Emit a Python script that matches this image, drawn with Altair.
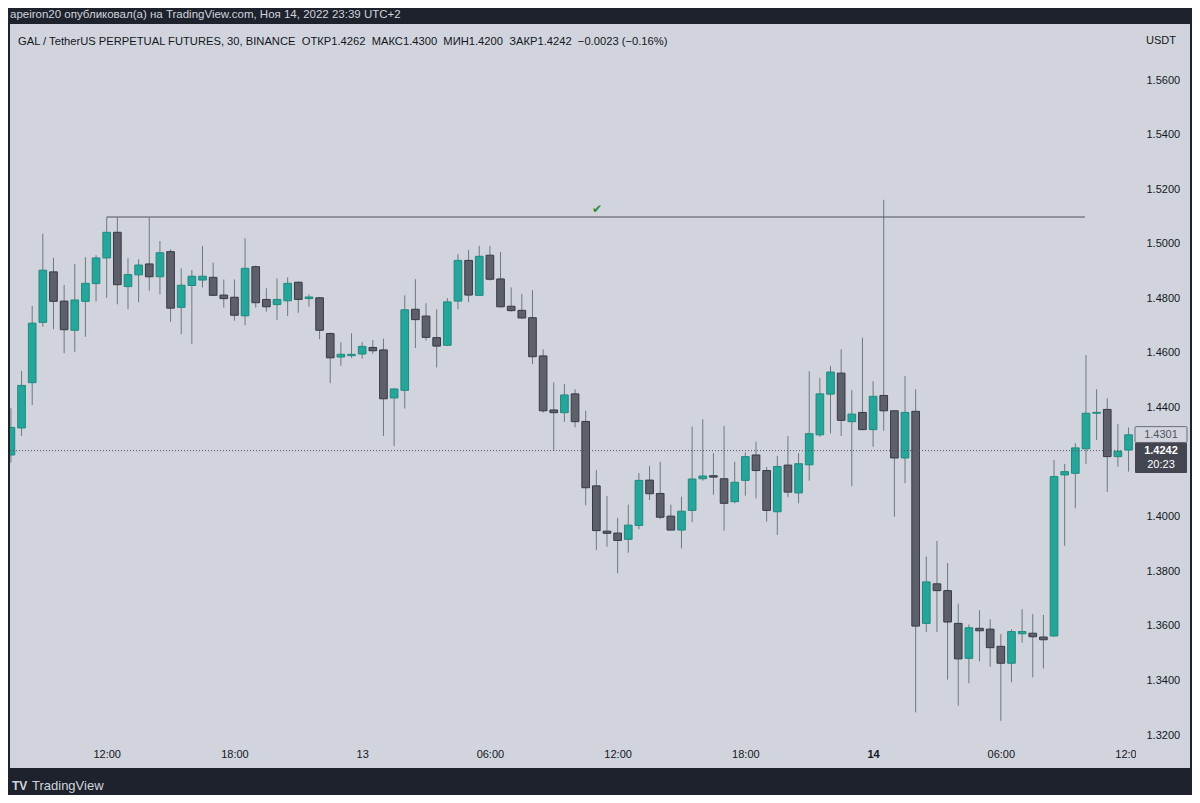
import altair as alt
import pandas as pd

# ---- data (30-min candles, GAL/USDT perp) ----
opens = [1.4226, 1.4325, 1.4491, 1.4712, 1.4897, 1.4790, 1.4683, 1.4789, 1.4854, 1.4948,
         1.5042, 1.4843, 1.4886, 1.4926, 1.4879, 1.4971, 1.4767, 1.4847, 1.4867, 1.4877,
         1.4812, 1.4804, 1.4736, 1.4916, 1.4796, 1.4777, 1.4791, 1.4859, 1.4799, 1.4802,
         1.4671, 1.4585, 1.4590, 1.4596, 1.4620, 1.4611, 1.4435, 1.4463, 1.4760, 1.4735,
         1.4656, 1.4628, 1.4790, 1.4939, 1.4811, 1.4958, 1.4871, 1.4771, 1.4756, 1.4729,
         1.4589, 1.4391, 1.4381, 1.4450, 1.4349, 1.4113, 1.3947, 1.3940, 1.3917, 1.3968,
         1.4134, 1.4085, 1.4002, 1.3951, 1.4023, 1.4139, 1.4150, 1.4139, 1.4055, 1.4133,
         1.4226, 1.4169, 1.4018, 1.4189, 1.4087, 1.4190, 1.4300, 1.4449, 1.4526, 1.4348,
         1.4382, 1.4319, 1.4444, 1.4388, 1.4215, 1.4386, 1.3609, 1.3754, 1.3729, 1.3609,
         1.3481, 1.3591, 1.3588, 1.3525, 1.3463, 1.3571, 1.3573, 1.3559, 1.3563, 1.4153,
         1.4159, 1.4249, 1.4379, 1.4393, 1.4220, 1.4244]
highs = [1.4397, 1.4534, 1.4772, 1.5037, 1.4949, 1.4849, 1.4926, 1.4951, 1.4958, 1.5097,
         1.5097, 1.4947, 1.4943, 1.5097, 1.5010, 1.4980, 1.4910, 1.4904, 1.4992, 1.4931,
         1.4869, 1.4869, 1.5020, 1.4920, 1.4837, 1.4873, 1.4877, 1.4862, 1.4815, 1.4805,
         1.4675, 1.4639, 1.4672, 1.4640, 1.4647, 1.4652, 1.4470, 1.4811, 1.4870, 1.4782,
         1.4760, 1.4801, 1.4962, 1.4977, 1.4992, 1.4992, 1.4970, 1.4840, 1.4816, 1.4830,
         1.4613, 1.4492, 1.4486, 1.4467, 1.4388, 1.4171, 1.4076, 1.3996, 1.4044, 1.4160,
         1.4186, 1.4201, 1.4044, 1.4073, 1.4330, 1.4357, 1.4233, 1.4332, 1.4201, 1.4236,
         1.4275, 1.4182, 1.4223, 1.4295, 1.4233, 1.4533, 1.4508, 1.4552, 1.4613, 1.4464,
         1.4656, 1.4496, 1.5161, 1.4390, 1.4515, 1.4467, 1.3854, 1.3911, 1.3830, 1.3681,
         1.3605, 1.3657, 1.3624, 1.3570, 1.3587, 1.3661, 1.3643, 1.3640, 1.4208, 1.4193,
         1.4269, 1.4592, 1.4467, 1.4434, 1.4340, 1.4327]
lows = [1.4198, 1.4296, 1.4409, 1.4696, 1.4687, 1.4599, 1.4604, 1.4659, 1.4789, 1.4802,
        1.4778, 1.4760, 1.4786, 1.4828, 1.4815, 1.4714, 1.4669, 1.4633, 1.4840, 1.4809,
        1.4766, 1.4718, 1.4702, 1.4766, 1.4751, 1.4721, 1.4735, 1.4747, 1.4769, 1.4650,
        1.4489, 1.4553, 1.4582, 1.4579, 1.4596, 1.4296, 1.4259, 1.4396, 1.4618, 1.4645,
        1.4547, 1.4625, 1.4760, 1.4786, 1.4809, 1.4865, 1.4767, 1.4751, 1.4725, 1.4559,
        1.4381, 1.4242, 1.4348, 1.4327, 1.4042, 1.3878, 1.3890, 1.3793, 1.3868, 1.3954,
        1.4061, 1.3991, 1.3950, 1.3884, 1.3980, 1.4132, 1.4080, 1.3949, 1.4049, 1.4077,
        1.4067, 1.3982, 1.3933, 1.4071, 1.4049, 1.4132, 1.4293, 1.4305, 1.4296, 1.4111,
        1.4317, 1.4256, 1.4315, 1.4000, 1.4123, 1.3283, 1.3577, 1.3577, 1.3403, 1.3308,
        1.3390, 1.3470, 1.3450, 1.3252, 1.3393, 1.3538, 1.3411, 1.3444, 1.3560, 1.3893,
        1.4031, 1.4193, 1.4281, 1.4091, 1.4183, 1.4165]
closes = [1.4327, 1.4481, 1.4709, 1.4903, 1.4789, 1.4685, 1.4794, 1.4855, 1.4948, 1.5042,
          1.4850, 1.4887, 1.4922, 1.4879, 1.4967, 1.4764, 1.4848, 1.4881, 1.4881, 1.4811,
          1.4799, 1.4738, 1.4910, 1.4784, 1.4769, 1.4796, 1.4855, 1.4796, 1.4805, 1.4683,
          1.4582, 1.4595, 1.4595, 1.4624, 1.4608, 1.4432, 1.4468, 1.4758, 1.4722, 1.4657,
          1.4625, 1.4787, 1.4939, 1.4812, 1.4954, 1.4870, 1.4769, 1.4755, 1.4728, 1.4586,
          1.4388, 1.4381, 1.4446, 1.4348, 1.4106, 1.3949, 1.3939, 1.3913, 1.3969, 1.4133,
          1.4084, 1.3998, 1.3951, 1.4020, 1.4138, 1.4149, 1.4145, 1.4049, 1.4126, 1.4220,
          1.4169, 1.4023, 1.4184, 1.4090, 1.4194, 1.4304, 1.4450, 1.4530, 1.4353, 1.4376,
          1.4319, 1.4441, 1.4388, 1.4215, 1.4382, 1.3599, 1.3761, 1.3729, 1.3614, 1.3479,
          1.3593, 1.3582, 1.3520, 1.3463, 1.3579, 1.3579, 1.3560, 1.3549, 1.4147, 1.4165,
          1.4252, 1.4379, 1.4382, 1.4220, 1.4240, 1.4300]

tick_index = [9, 21, 33, 45, 57, 69, 81, 93, 105]
tick_labels = ["12:00", "18:00", "13", "06:00", "12:00", "18:00", "14", "06:00", "12:00"]
bold_tick = 81
price_ticks = [1.32, 1.34, 1.36, 1.38, 1.40, 1.44, 1.46, 1.48, 1.50, 1.52, 1.54, 1.56]

level_price = 1.5098
level_from, level_to = 9, 100.9
check_at, check_price = 55.06, 1.5127
last_price = 1.4242
tag_price = 1.4301
countdown = "20:23"

SP = "\u00a0\u00a0"
top_line = "apeiron20 опубликовал(а) на TradingView.com, Ноя 14, 2022 23:39 UTC+2"
legend_line = ("GAL / TetherUS PERPETUAL FUTURES, 30, BINANCE" + SP + "ОТКР1.4262" + SP + "МАКС1.4300"
               + SP + "МИН1.4200" + SP + "ЗАКР1.4242" + SP + "−0.0023 (−0.16%)")
currency = "USDT"
brand = "TradingView"

# ---- styling ----
FRAME = "#1e222d"
PANEL = "#d1d4dc"
TEXT = "#131722"
UP, UP_EDGE = "#26a69a", "#1f8a7f"
DOWN, DOWN_EDGE = "#5d606b", "#363a45"
WICK = "#6b7a7d"
SANS = "Liberation Sans"
W, H = 1126, 718
X_DOMAIN = [-0.085, 105.7]
Y_DOMAIN = [1.31744, 1.58052]

n = len(opens)
df = pd.DataFrame({"i": list(range(n)), "o": opens, "h": highs, "l": lows, "c": closes})
df["dir"] = ["up" if c >= o else "down" for o, c in zip(opens, closes)]
df["x1"] = df["i"] - 0.36
df["x2"] = df["i"] + 0.36

xs = alt.Scale(domain=X_DOMAIN, nice=False, zero=False)
ys = alt.Scale(domain=Y_DOMAIN, nice=False, zero=False)

arr_vals = "[" + ",".join(str(v) for v in tick_index) + "]"
arr_labs = "[" + ",".join("'" + s + "'" for s in tick_labels) + "]"
x_axis = alt.Axis(values=tick_index, labelExpr=f"{arr_labs}[indexof({arr_vals}, datum.value)]",
                  ticks=False, domain=False, grid=False, title=None, labelPadding=6,
                  labelFontSize=11, labelColor=TEXT, labelFont=SANS, zindex=0,
                  labelFontWeight={"condition": {"test": f"datum.value == {bold_tick}", "value": "bold"},
                                   "value": "normal"})
y_axis = alt.Axis(orient="right", values=price_ticks, format=".4f", ticks=False, domain=False,
                  grid=False, title=None, labelPadding=10, labelAlign="left", labelFontSize=11,
                  labelColor=TEXT, labelFont=SANS, zindex=1)


def X(field):
    return alt.X(field, scale=xs, axis=x_axis)


def Y(field):
    return alt.Y(field, scale=ys, axis=y_axis)


base = alt.Chart(df)
wicks = base.mark_rule(color=WICK, strokeWidth=1).encode(x=X("i:Q"), y=Y("l:Q"), y2="h:Q")
bodies = base.mark_rect(strokeWidth=1).encode(
    x=X("x1:Q"), x2="x2:Q", y=Y("o:Q"), y2="c:Q",
    fill=alt.Fill("dir:N", scale=alt.Scale(domain=["up", "down"], range=[UP, DOWN]), legend=None),
    stroke=alt.Stroke("dir:N", scale=alt.Scale(domain=["up", "down"], range=[UP_EDGE, DOWN_EDGE]), legend=None))

lvl = pd.DataFrame({"a": [level_from], "b": [level_to], "p": [level_price]})
level = alt.Chart(lvl).mark_rule(color="#4e525c", strokeWidth=1).encode(x=X("a:Q"), x2="b:Q", y=Y("p:Q"))

chk = pd.DataFrame({"x": [check_at], "p": [check_price]})
check = alt.Chart(chk).mark_text(text="✔", color="#2e8b36", fontSize=12, font="DejaVu Sans").encode(
    x=X("x:Q"), y=Y("p:Q"))

lp = pd.DataFrame({"a": [X_DOMAIN[0]], "b": [104.4], "p": [last_price]})
dotted = alt.Chart(lp).mark_rule(color="#4e525c", strokeWidth=1, strokeDash=[1, 2]).encode(
    x=X("a:Q"), x2="b:Q", y=Y("p:Q"))

one = pd.DataFrame({"k": [0]})


def band(x0, x1, y0, y1, color):
    return alt.Chart(one).mark_rect(color=color).encode(
        x=alt.value(x0), x2=alt.value(x1), y=alt.value(y0), y2=alt.value(y1))


def label(txt, x, y, size=12, color=TEXT, align="left", weight="normal", font=SANS):
    return alt.Chart(one).mark_text(text=txt, align=align, baseline="middle", fontSize=size,
                                    color=color, fontWeight=weight, font=font).encode(
        x=alt.value(x), y=alt.value(y))


price_col = band(W, W + 54, 0, H + 26, PANEL)

tags = pd.DataFrame({"t1": [tag_price + 0.0029], "b1": [tag_price - 0.0029],
                     "t2": [last_price + 0.0029], "b2": [last_price - 0.0082],
                     "p1": [tag_price], "p2": [last_price]})
tag1 = alt.Chart(tags).mark_rect(fill=PANEL, stroke="#6a6d78", strokeWidth=1, cornerRadius=1).encode(
    x=alt.value(W - 1), x2=alt.value(W + 51), y=Y("t1:Q"), y2="b1:Q")
tag1t = alt.Chart(tags).mark_text(text=f"{tag_price:.4f}", color="#50535e", fontSize=11,
                                  font=SANS).encode(x=alt.value(W + 25), y=Y("p1:Q"))
tag2 = alt.Chart(tags).mark_rect(fill="#434651", cornerRadius=1).encode(
    x=alt.value(W - 1), x2=alt.value(W + 51), y=Y("t2:Q"), y2="b2:Q")
tag2t = alt.Chart(tags).mark_text(text=f"{last_price:.4f}", color="#ffffff", fontSize=11,
                                  fontWeight="bold", font=SANS).encode(x=alt.value(W + 25), y=Y("p2:Q"))
tag2c = alt.Chart(tags).mark_text(text=countdown, color="#ffffff", fontSize=11, dy=14,
                                  font=SANS).encode(x=alt.value(W + 25), y=Y("p2:Q"))

frame = [band(-12, W + 70, -40, 0, FRAME),
         band(-12, 0, -40, H + 80, FRAME),
         band(W + 54, W + 70, -40, H + 80, FRAME),
         band(-12, W + 70, H + 26, H + 80, FRAME)]

texts = [label(top_line, 0, -9, size=11.5, color=PANEL),
         label(legend_line, 8, 18, size=11.2),
         label(currency, W + 10, 17, size=11),
         label("TV", 2, 762, size=12, color=PANEL, weight="bold"),
         label(brand, 22, 762, size=13, color=PANEL)]

chart = alt.layer(wicks, bodies, level, dotted, check, price_col, tag1, tag1t, tag2, tag2t, tag2c,
                  *frame, *texts).properties(
    width=W, height=H,
    padding={"left": 2, "top": 16, "right": 56, "bottom": 53},
    autosize=alt.AutoSizeParams(type="none"),
).configure(background=PANEL).configure_view(strokeWidth=0)

chart.save("out.html", embed_options={"renderer": "svg", "actions": False})
